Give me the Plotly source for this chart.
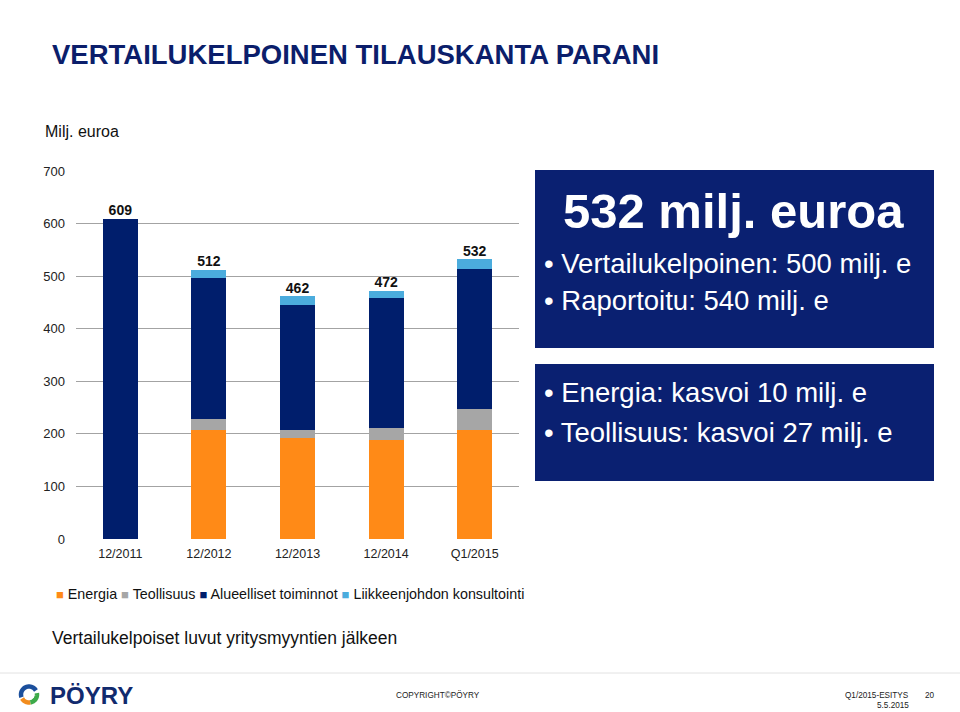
import math
import plotly.graph_objects as go

# data
categories = ["12/2011", "12/2012", "12/2013", "12/2014", "Q1/2015"]
energia = [0, 208, 192, 189, 208]
teollisuus = [0, 20, 16, 23, 40]
alueelliset = [609, 269, 238, 246, 265]
konsultointi = [0, 15, 16, 14, 19]
totals = [609, 512, 462, 472, 532]

series = [
    ("Energia", energia, "#FF8A17"),
    ("Teollisuus", teollisuus, "#A6A6A6"),
    ("Alueelliset toiminnot", alueelliset, "#001E6C"),
    ("Liikkeenjohdon konsultointi", konsultointi, "#4BACDD"),
]

FONT = "Liberation Sans, Arial, sans-serif"
NAVY = "#0A2071"

# plot area in pixels (960 x 712 page)
L, R, T, B = 76, 519, 171, 539
W, H = R - L, B - T


def fx(px):
    return (px - L) / W


def fy(py):
    return (B - py) / H


fig = go.Figure()
for name, vals, col in series:
    fig.add_trace(go.Bar(x=categories, y=vals, name=name, marker_color=col,
                         marker_line_width=0, showlegend=False))

# totals above bars
fig.add_trace(go.Scatter(x=categories, y=totals, mode="text",
                         text=["<b>%d</b>" % t for t in totals],
                         textposition="top center", cliponaxis=False, showlegend=False,
                         textfont=dict(family=FONT, size=14, color="#111111")))

fig.update_layout(
    width=960, height=712,
    margin=dict(l=L, r=960 - R, t=T, b=712 - B),
    paper_bgcolor="white", plot_bgcolor="white",
    barmode="stack", bargap=0.605,
    font=dict(family=FONT, color="#222222"),
    showlegend=False,
)
fig.update_yaxes(range=[0, 700], dtick=100, showgrid=True, gridcolor="#A3A3A3", gridwidth=1.3,
                 zeroline=False, showline=False, ticks="", ticklabelstandoff=10,
                 tickfont=dict(family=FONT, size=13, color="#222222"))
fig.update_xaxes(showgrid=False, showline=False, ticks="", ticklabelstandoff=5,
                 tickfont=dict(family=FONT, size=12.5, color="#222222"))

ann = []
shapes = []

# title and small texts
ann.append(dict(x=fx(50), y=fy(55), xref="paper", yref="paper", xanchor="left", yanchor="middle",
                text="<b>VERTAILUKELPOINEN TILAUSKANTA PARANI</b>", showarrow=False,
                font=dict(family=FONT, size=27.5, color="#0B1E6B")))
ann.append(dict(x=fx(43), y=fy(131), xref="paper", yref="paper", xanchor="left", yanchor="middle",
                text="Milj. euroa", showarrow=False, font=dict(family=FONT, size=16, color="#111111")))

# legend row
leg = " ".join(
    "<span style='color:%s;font-size:13px'>■</span> %s" % (col, name) for name, _, col in series
)
ann.append(dict(x=fx(54), y=fy(594), xref="paper", yref="paper", xanchor="left", yanchor="middle",
                text=leg, showarrow=False, font=dict(family=FONT, size=14.3, color="#111111")))
ann.append(dict(x=fx(50), y=fy(638), xref="paper", yref="paper", xanchor="left", yanchor="middle",
                text="Vertailukelpoiset luvut yritysmyyntien jälkeen", showarrow=False,
                font=dict(family=FONT, size=17.5, color="#111111")))

# info boxes
for y0, y1 in [(170, 348), (364, 481)]:
    shapes.append(dict(type="rect", xref="paper", yref="paper", x0=fx(535), x1=fx(934),
                       y0=fy(y1), y1=fy(y0), fillcolor=NAVY, line_width=0, layer="above"))

ann.append(dict(x=fx(733), y=fy(211), xref="paper", yref="paper", xanchor="center", yanchor="middle",
                text="<b>532 milj. euroa</b>", showarrow=False,
                font=dict(family=FONT, size=49, color="white")))
bullets = [
    ("Vertailukelpoinen: 500 milj. e", 263),
    ("Raportoitu: 540 milj. e", 300),
    ("Energia: kasvoi 10 milj. e", 392),
    ("Teollisuus: kasvoi 27 milj. e", 432),
]
for txt, yy in bullets:
    ann.append(dict(x=fx(542), y=fy(yy), xref="paper", yref="paper", xanchor="left", yanchor="middle",
                    text="• " + txt, showarrow=False, font=dict(family=FONT, size=27.5, color="white")))

# footer
shapes.append(dict(type="line", xref="paper", yref="paper", x0=fx(0), x1=fx(960), y0=fy(673), y1=fy(673),
                   line=dict(color="#E2E2E2", width=1)))


def arc(cx, cy, r, a0, a1, n=24):
    pts = []
    for i in range(n + 1):
        a = math.radians(a0 + (a1 - a0) * i / n)
        pts.append((fx(cx + r * math.cos(a)), fy(cy - r * math.sin(a))))
    return "M" + " L".join("%.5f,%.5f" % p for p in pts)


shapes.append(dict(type="path", xref="paper", yref="paper", path=arc(29, 694.5, 8, 30, 200),
                   line=dict(color="#1B4F9C", width=4.5), layer="above"))
shapes.append(dict(type="path", xref="paper", yref="paper", path=arc(29, 694.5, 8, 210, 280),
                   line=dict(color="#F28C1E", width=4.5), layer="above"))
shapes.append(dict(type="path", xref="paper", yref="paper", path=arc(29, 694.5, 8, 280, 370),
                   line=dict(color="#3DAA4A", width=4.5), layer="above"))
ann.append(dict(x=fx(48), y=fy(695), xref="paper", yref="paper", xanchor="left", yanchor="middle",
                text="<b>PÖYRY</b>", showarrow=False, font=dict(family=FONT, size=24, color="#112A6E")))
ann.append(dict(x=fx(394), y=fy(695), xref="paper", yref="paper", xanchor="left", yanchor="middle",
                text="COPYRIGHT©PÖYRY", showarrow=False, font=dict(family=FONT, size=8.2, color="#222222")))
ann.append(dict(x=fx(911), y=fy(695), xref="paper", yref="paper", xanchor="right", yanchor="middle",
                text="Q1/2015-ESITYS", showarrow=False, font=dict(family=FONT, size=8.2, color="#222222")))
ann.append(dict(x=fx(911), y=fy(705), xref="paper", yref="paper", xanchor="right", yanchor="middle",
                text="5.5.2015", showarrow=False, font=dict(family=FONT, size=8.2, color="#222222")))
ann.append(dict(x=fx(923), y=fy(695), xref="paper", yref="paper", xanchor="left", yanchor="middle",
                text="20", showarrow=False, font=dict(family=FONT, size=8.2, color="#222222")))

fig.update_layout(annotations=ann, shapes=shapes)
# drop the default 8px page margin so the figure sits at the window's corner
fig.write_html("out.html", config={"displayModeBar": False},
               post_script="document.body.style.margin='0';")
